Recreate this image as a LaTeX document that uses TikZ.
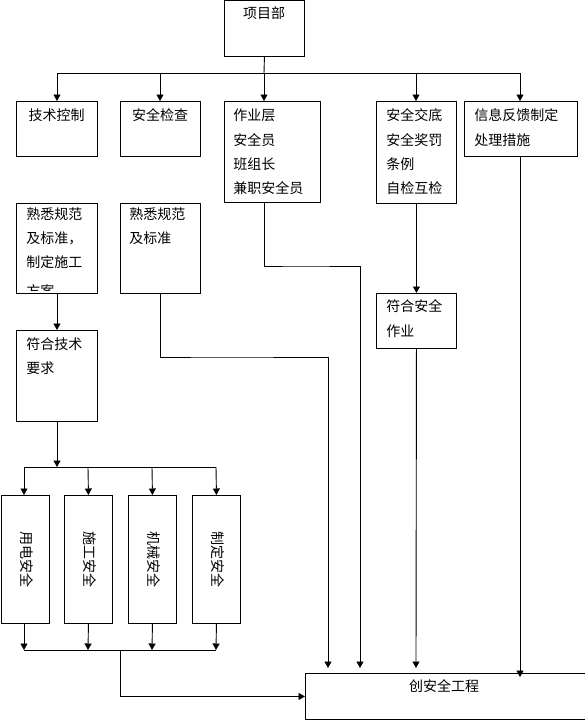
\documentclass[tikz,border=0pt]{standalone}
\usepackage{fontspec}
\newfontfamily\cjkfont{Noto Sans CJK SC}
\usetikzlibrary{arrows.meta}
\begin{document}
\begin{tikzpicture}[x=1pt,y=-1pt,
  line width=0.9pt,
  box/.style={draw,line width=0.9pt,inner sep=0pt,anchor=north west},
  txt/.style={inner sep=0pt,font=\cjkfont\fontsize{14}{16}\selectfont,text height=0.88em,text depth=0.12em},
  ltxt/.style={txt,anchor=west},
  arr/.style={-{Triangle[width=7pt,length=6.5pt]}}]
\useasboundingbox (0,0) rectangle (584,720);
% boxes
\node[box,minimum width=80pt,minimum height=55pt] (xmb) at (224,0.5) {};
\node[box,minimum width=81pt,minimum height=55pt] (jskz) at (16,101) {};
\node[box,minimum width=80pt,minimum height=55pt] (aqjc) at (120,101) {};
\node[box,minimum width=96pt,minimum height=101pt] (zyc) at (224,101) {};
\node[box,minimum width=80pt,minimum height=102pt] (aqjd) at (376,101) {};
\node[box,minimum width=113pt,minimum height=55pt] (xxfk) at (464,101) {};
\node[box,minimum width=81pt,minimum height=90pt] (sx1) at (16,203) {};
\node[box,minimum width=80pt,minimum height=90pt] (sx2) at (120,203) {};
\node[box,minimum width=80pt,minimum height=55pt] (fhaq) at (376,293) {};
\node[box,minimum width=81pt,minimum height=91pt] (fhjs) at (16,330) {};
\node[box,minimum width=48pt,minimum height=128pt] (v1) at (0.5,495) {};
\node[box,minimum width=48pt,minimum height=128pt] (v2) at (64,495) {};
\node[box,minimum width=48pt,minimum height=128pt] (v3) at (128,495) {};
\node[box,minimum width=48pt,minimum height=128pt] (v4) at (192,495) {};
\node[box,minimum width=285pt,minimum height=46pt] (cj) at (305,673) {};
% texts
\node[txt] (t0) at (264,15) {项目部};
\node[txt] (t1) at (56.5,117) {技术控制};
\node[txt] (t2) at (160,117) {安全检查};
\node[ltxt] (t3a) at (233,117) {作业层};
\node[ltxt] (t3b) at (233,141.5) {安全员};
\node[ltxt] (t3c) at (233,166) {班组长};
\node[ltxt] (t3d) at (233,190) {兼职安全员};
\node[ltxt] (t4a) at (386,117) {安全交底};
\node[ltxt] (t4b) at (386,141.5) {安全奖罚};
\node[ltxt] (t4c) at (386,166) {条例};
\node[ltxt] (t4d) at (386,190) {自检互检};
\node[ltxt] (t5a) at (474,117) {信息反馈制定};
\node[ltxt] (t5b) at (474,141.5) {处理措施};
\node[ltxt] (t6a) at (26,216) {熟悉规范};
\node[ltxt] (t6b) at (26,240) {及标准，};
\node[ltxt] (t6c) at (26,264) {制定施工};
\begin{scope}
\clip (16,203) rectangle (97,290.5);
\node[ltxt] (t6d) at (26,293) {方案};
\end{scope}
\node[ltxt] (t7a) at (129,216) {熟悉规范};
\node[ltxt] (t7b) at (129,240) {及标准};
\node[ltxt] (t8a) at (386,308) {符合安全};
\node[ltxt] (t8b) at (386,333) {作业};
\node[ltxt] (t9a) at (26,346) {符合技术};
\node[ltxt] (t9b) at (26,370) {要求};
\node[txt,rotate=-90] (tv1) at (v1.center) {用电安全};
\node[txt,rotate=-90] (tv2) at (v2.center) {施工安全};
\node[txt,rotate=-90] (tv3) at (v3.center) {机械安全};
\node[txt,rotate=-90] (tv4) at (v4.center) {制定安全};
\node[txt] (tcj) at (444,688) {创安全工程};
% top bus
\coordinate (btop) at (264,73);
\coordinate (b1) at (57,73);
\coordinate (b2) at (160,73);
\coordinate (b4) at (416,73);
\coordinate (b5) at (520,73);
\draw (xmb.south) -- (btop);
\draw (b1) -- (b5);
\draw[arr] (b1) -- (b1 |- jskz.north);
\draw[arr] (b2) -- (b2 |- aqjc.north);
\draw[arr] (btop) -- (btop |- zyc.north);
\draw[arr] (b4) -- (b4 |- aqjd.north);
\draw[arr] (b5) -- (b5 |- xxfk.north);
% middle
\draw[arr] (sx1.south) -- (sx1.south |- fhjs.north);
\draw[arr] (aqjd.south) -- (fhaq.north);
\coordinate (e1) at (328,668);
\coordinate (e2) at (360,668);
\coordinate (e3) at (416,668);
\coordinate (e4) at (520,677);
\draw[arr] (sx2.south) |- (220,357) -| (e1);
\draw[arr] (btop |- zyc.south) |- (300,266) -| (e2);
\draw[arr] (fhaq.south) -- (e3);
\draw[arr] (b5 |- xxfk.south) -- (e4);
% lower buses
\coordinate (m1) at (24,467);
\coordinate (m4) at (216,467);
\coordinate (mc) at (57,467);
\draw[arr] (fhjs.south -| mc) -- (mc);
\draw (m1) -- (m4);
\draw[arr] (m1) -- (m1 |- v1.north);
\draw[arr] (88,467) -- (v2.north);
\draw[arr] (152,467) -- (v3.north);
\draw[arr] (m4) -- (v4.north);
\coordinate (n1) at (24,650);
\coordinate (n4) at (216,650);
\draw[arr] (n1 |- v1.south) -- (n1);
\draw[arr] (v2.south) -- (88,650);
\draw[arr] (v3.south) -- (152,650);
\draw[arr] (v4.south) -- (n4);
\draw (n1) -- (n4);
\draw[arr] (120,650) |- (cj.west);
\end{tikzpicture}
\end{document}
